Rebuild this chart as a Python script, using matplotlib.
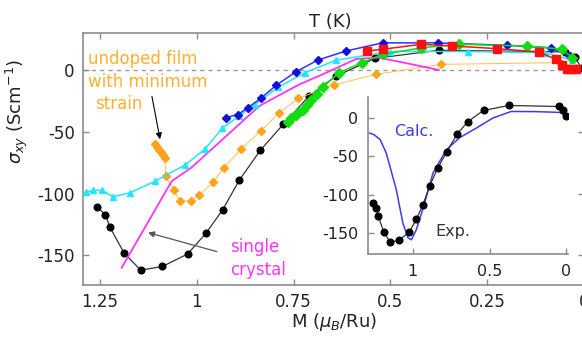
import numpy as np
import matplotlib
matplotlib.use("Agg")
import matplotlib.pyplot as plt

plt.rcParams['font.family'] = ['DejaVu Sans']
plt.rcParams['axes.unicode_minus'] = False

# magnetization M (muB/Ru) and Hall conductivity sigma_xy (S/cm) for each sample
m_exp = [1.258, 1.236, 1.225, 1.188, 1.145, 1.089, 1.024, 0.976, 0.933, 0.89,
         0.836, 0.777, 0.71, 0.641, 0.539, 0.375, 0.05, 0.024, 0.006]
s_exp = [-111, -117, -127, -148, -162, -159, -149, -132, -113, -89,
         -65, -44, -21, -5, 9.5, 16, 14.7, 10.4, 1.7]

m_blue = [0.924, 0.894, 0.868, 0.833, 0.795, 0.745, 0.688, 0.615, 0.52, 0.378, 0.2, 0.086, 0.035]
s_blue = [-38.5, -36, -30.5, -22.4, -12.4, -1.6, 8, 15.4, 22, 22, 20, 18, 11]

m_cyan = [1.286, 1.267, 1.246, 1.216, 1.173, 1.108, 1.031, 0.979, 0.934, 0.89,
          0.85, 0.79, 0.72, 0.64, 0.5, 0.3, 0.1, 0.03]
s_cyan = [-98.6, -97.5, -97.3, -102.6, -99.4, -90, -77, -64, -47, -37,
          -28, -14, -2, 8, 15, 15, 14, 8]

m_crystal = [1.194, 1.065, 1.014, 0.933, 0.838, 0.735, 0.675, 0.63, 0.588, 0.53, 0.45, 0.375]
s_crystal = [-160, -90, -79, -56, -29, -11.6, -3.5, 3, 9, 10, 5, 0]

m_undoped = [1.108, 1.103, 1.098, 1.093, 1.088, 1.083, 1.08, 1.06, 1.044, 1.014, 0.994,
             0.958, 0.93, 0.885, 0.834, 0.788, 0.739, 0.645, 0.537, 0.37, 0.06, 0.02]
s_undoped = [-60, -62, -64.5, -66.5, -69, -71, -86, -97, -106, -106, -101,
             -91, -79, -64, -49, -35, -23, -12, -3.5, 4.6, 6, 2]

m_green = [0.765, 0.756, 0.745, 0.735, 0.726, 0.715, 0.705, 0.69, 0.675, 0.632,
           0.573, 0.52, 0.42, 0.322, 0.146, 0.056, 0.03]
s_green = [-42, -39, -36, -34, -32, -28, -24, -19, -14, -2,
           6, 12.7, 18, 20.8, 19.5, 16.8, 10]

m_red = [0.56, 0.52, 0.421, 0.34, 0.224, 0.116, 0.073, 0.056, 0.045, 0.035, 0.02]
s_red = [15.4, 16.8, 20.8, 19.5, 17.3, 14.6, 8.7, 4, 1, 0.6, 0.5]

# calculated curve for the inset
m_calc = [1.279, 1.25, 1.21, 1.171, 1.106, 1.063, 1.03, 1.008, 0.976, 0.922, 0.868,
          0.781, 0.695, 0.586, 0.479, 0.359, 0.2, 0.045, 0.002]
s_calc = [-20, -22, -28.6, -46, -93.5, -137, -156, -158.5, -145.5, -111, -72,
          -41.6, -26, -13.4, -0.4, 8.2, 8, 7, 2.6]

main_ticks = [1.25, 1, 0.75, 0.5, 0.25, 0]
main_ticklabels = ['1.25', '1', '0.75', '0.5', '0.25', '0']
y_ticks = [0, -50, -100, -150]
inset_ticks = [1, 0.5, 0]
inset_ticklabels = ['1', '0.5', '0']

spine_col = '#8c8c8c'
text_col = '#222222'

fig = plt.figure(figsize=(5.82, 3.4), dpi=100)
ax = fig.add_axes([0.1426, 0.1618, 0.8608, 0.7412])

ax.axhline(0, color='#999999', lw=1, ls=(0, (3, 3)), zorder=1)

ax.plot(m_exp, s_exp, color='#333333', lw=0.9, marker='o', ms=4.8,
        mfc='black', mec='black', zorder=3)
ax.plot(m_undoped, s_undoped, color='#ffc04d', lw=0.7, marker='D', ms=4,
        mfc='#ffa31a', mec='#ffa31a', zorder=3)
ax.plot(m_crystal, s_crystal, color='#ff33ff', lw=1.3, zorder=3)
ax.plot(m_cyan, s_cyan, color='#22e6ff', lw=1.1, marker='^', ms=5,
        mfc='#22e6ff', mec='#22e6ff', zorder=4)
ax.plot(m_blue, s_blue, color='#3030ff', lw=1.1, marker='D', ms=4.5,
        mfc='#1010dd', mec='#1010dd', zorder=5)
ax.plot(m_green, s_green, color='#11dd11', lw=1.1, marker='D', ms=5,
        mfc='#11dd11', mec='#11dd11', zorder=5)
ax.plot(m_red, s_red, color='#ff1010', lw=1.1, marker='s', ms=5.5,
        mfc='#ff1010', mec='#ff1010', zorder=6)

ax.set_xlim(1.294, 0)
ax.set_ylim(-174, 30)
ax.set_xticks(main_ticks)
ax.set_xticklabels(main_ticklabels)
ax.set_yticks(y_ticks)
ax.tick_params(direction='in', length=4, width=1, color=spine_col, labelcolor=text_col,
               top=True, right=True, labelsize=12, pad=6)
for sp in ax.spines.values():
    sp.set_color(spine_col)
    sp.set_linewidth(1.2)

ax.set_xlabel(r'M ($\mu_B$/Ru)', fontsize=13, labelpad=0, color=text_col)
ax.set_ylabel(r'$\sigma_{xy}$ (Scm$^{-1}$)', fontsize=13, color=text_col)
ax.yaxis.set_label_coords(-0.106, 0.687)
ax.text(0.493, 1.045, 'T (K)', transform=ax.transAxes, ha='center', va='center',
        fontsize=13, color=text_col)

# labels for the two reference samples
orange_txt = '#ffb030'
ax.text(1.281, 8.7, 'undoped film', color=orange_txt, fontsize=12, va='center', ha='left')
ax.text(1.281, -10, 'with minimum', color=orange_txt, fontsize=12, va='center', ha='left')
ax.text(1.263, -27.8, 'strain', color=orange_txt, fontsize=12, va='center', ha='left')
ax.annotate('', xy=(1.095, -56), xytext=(1.116, -21.3),
            arrowprops=dict(arrowstyle='-|>', color='black', lw=0.8,
                            mutation_scale=9, shrinkA=0, shrinkB=0))

ax.text(0.915, -143, 'single', color='#ff33ff', fontsize=12, va='center', ha='left')
ax.text(0.915, -161.6, 'crystal', color='#ff33ff', fontsize=12, va='center', ha='left')
ax.annotate('', xy=(1.126, -131.6), xytext=(0.948, -147),
            arrowprops=dict(arrowstyle='-|>', color='#555555', lw=0.9,
                            mutation_scale=9, shrinkA=0, shrinkB=0))

# inset: experiment vs calculation
ins = fig.add_axes([0.6323, 0.2529, 0.3436, 0.4618])
ins.patch.set_alpha(0)
ins.plot(m_calc, s_calc, color='#3b3bf0', lw=1.1, zorder=2)
ins.plot(m_exp, s_exp, color='#333333', lw=0.9, marker='o', ms=4.8,
         mfc='black', mec='black', zorder=3)
ins.set_xlim(1.29, -0.01)
ins.set_ylim(-177, 27)
ins.set_xticks(inset_ticks)
ins.set_xticklabels(inset_ticklabels)
ins.set_yticks(y_ticks)
ins.tick_params(direction='in', length=4, width=1, color=spine_col, labelcolor=text_col,
                labelsize=11.5, pad=7)
ins.spines['top'].set_visible(False)
ins.spines['right'].set_visible(False)
for side in ['left', 'bottom']:
    ins.spines[side].set_color(spine_col)
    ins.spines[side].set_linewidth(1.2)
ins.text(1.117, -17.8, 'Calc.', color='#3b3bf0', fontsize=11.5, va='center', ha='left')
ins.text(0.851, -147.7, 'Exp.', color='#333333', fontsize=11.5, va='center', ha='left')

fig.savefig('out.png', dpi=100)
